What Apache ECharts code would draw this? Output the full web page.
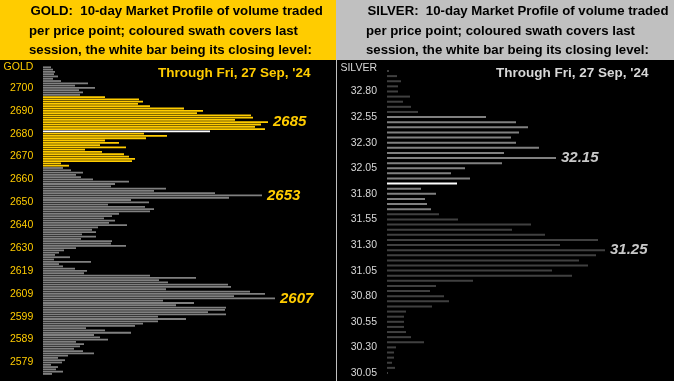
<!DOCTYPE html>
<html>
<head>
<meta charset="utf-8">
<script src="https://cdn.jsdelivr.net/npm/echarts/dist/echarts.min.js"></script>
<style>
html,body{margin:0;padding:0;background:#000;}
#c{width:674px;height:381px;}
</style>
</head>
<body>
<div id="c"></div>
<script>
// ---- GOLD: 10-day market profile, top (highest price) to bottom ----
const goldVolumes = [8,10,12,11,15,10,18,45,32,52,
  36,40,37,62,96,100,95,107,141,160,
  154,208,210,192,225,218,212,222,167,101,
  124,103,62,76,57,83,42,59,81,86,
  92,89,18,26,20,28,40,33,38,50,
  86,72,68,123,111,172,219,186,88,106,
  65,102,111,107,76,69,61,72,66,84,
  55,49,53,39,53,38,69,68,83,33,
  21,16,12,27,11,48,16,20,32,44,
  41,107,153,116,125,185,188,123,207,222,
  191,232,120,151,133,183,182,165,183,115,
  143,115,100,92,43,62,88,51,57,65,
  33,41,37,31,40,51,25,15,22,19,
  8,15,13,20,9];
const goldTickLabels = ['2700','2690','2680','2670','2660','2650','2640','2630','2619','2609','2599','2589','2579'];
const goldTickStart = 9, goldTickStep = 10;
const goldSwath = [13, 43];      // last session range (bar indices)
const goldClose = 28;            // white bar
const goldPeakIdx = [24, 56, 101];
const goldPeakLabels = ['2685', '2653', '2607'];

// ---- SILVER ----
const silverVolumes = [2,10,14,11,11,23,16,24,31,99,
  129,141,132,124,129,152,117,169,115,78,
  64,83,70,34,49,38,40,44,52,71,
  144,125,158,211,173,218,209,192,201,165,
  185,86,49,43,57,62,45,19,17,17,
  17,19,24,37,9,7,7,5,8,1];
const silverTickLabels = ['32.80','32.55','32.30','32.05','31.80','31.55','31.30','31.05','30.80','30.55','30.30','30.05'];
const silverTickStart = 4, silverTickStep = 5;
const silverSwath = [9, 27];
const silverClose = 22;
const silverPeakIdx = [17, 35];
const silverPeakLabels = ['32.15', '31.25'];

const goldCats = goldVolumes.map((_, i) => String(i));
const silverCats = silverVolumes.map((_, i) => String(i));

function buildData(vals, swath, close, peakIdx, peakLabels, cOut, cIn, peakColor) {
  return vals.map((v, i) => {
    let color = cOut;
    if (i >= swath[0] && i <= swath[1]) color = cIn;
    if (i === close) color = '#FFFFFF';
    const item = { value: v, itemStyle: { color } };
    const p = peakIdx.indexOf(i);
    if (p >= 0) {
      item.label = {
        show: true, position: 'right', distance: 5,
        formatter: peakLabels[p],
        color: peakColor, fontFamily: 'Liberation Sans, Arial, sans-serif',
        fontWeight: 'bold', fontStyle: 'italic', fontSize: 15
      };
    }
    return item;
  });
}

function tickFormatter(labels, start, step) {
  return (val, idx) => {
    const k = idx - start;
    if (k >= 0 && k % step === 0 && labels[k / step] !== undefined) return labels[k / step];
    return '';
  };
}

const FONT = 'Liberation Sans, Arial, sans-serif';
const chart = echarts.init(document.getElementById('c'));

function hdr(x, y, t) {
  return { type: 'text', x: x, y: y, style: { text: t, fill: '#000', font: 'bold 13.2px ' + FONT, textVerticalAlign: 'middle' } };
}

chart.setOption({
  backgroundColor: '#000',
  animation: false,
  graphic: [
    { type: 'rect', shape: { x: 0, y: 0, width: 336, height: 60 }, style: { fill: '#FFCC00' }, z: -10 },
    { type: 'rect', shape: { x: 336, y: 0, width: 338, height: 60 }, style: { fill: '#C0C0C0' }, z: -10 },
    { type: 'line', shape: { x1: 336.5, y1: 60, x2: 336.5, y2: 381 }, style: { stroke: '#C0C0C0', lineWidth: 1 } },
    hdr(30.5, 11.7, 'GOLD:  10-day Market Profile of volume traded'),
    hdr(29, 31, 'per price point; coloured swath covers last'),
    hdr(29, 50, 'session, the white bar being its closing level:'),
    hdr(367.5, 11.7, 'SILVER:  10-day Market Profile of volume traded'),
    hdr(366, 31, 'per price point; coloured swath covers last'),
    hdr(366, 50, 'session, the white bar being its closing level:'),
    { type: 'text', x: 158, y: 73.3, style: { text: "Through Fri, 27 Sep, '24", fill: '#FFCC00', font: 'bold 13.5px ' + FONT, textVerticalAlign: 'middle' } },
    { type: 'text', x: 496, y: 73, style: { text: "Through Fri, 27 Sep, '24", fill: '#D8D8D8', font: 'bold 13.5px ' + FONT, textVerticalAlign: 'middle' } },
    { type: 'text', x: 33.3, y: 66.7, style: { text: 'GOLD', fill: '#FFCC00', font: '10.5px ' + FONT, textAlign: 'right', textVerticalAlign: 'middle' } },
    { type: 'text', x: 377, y: 68.3, style: { text: 'SILVER', fill: '#D8D8D8', font: '10.5px ' + FONT, textAlign: 'right', textVerticalAlign: 'middle' } }
  ],
  grid: [
    { left: 43, width: 293, top: 66.16, height: 308.9 },
    { left: 387, width: 287, top: 68.44, height: 307.1 }
  ],
  xAxis: [
    { gridIndex: 0, type: 'value', min: 0, max: 293, show: false },
    { gridIndex: 1, type: 'value', min: 0, max: 287, show: false }
  ],
  yAxis: [
    { gridIndex: 0, type: 'category', inverse: true, data: goldCats,
      axisLine: { show: false }, axisTick: { show: false }, splitLine: { show: false },
      axisLabel: { interval: 0, margin: 9.7, color: '#FFCC00', fontSize: 10.5, fontFamily: FONT,
        formatter: tickFormatter(goldTickLabels, goldTickStart, goldTickStep) } },
    { gridIndex: 1, type: 'category', inverse: true, data: silverCats,
      axisLine: { show: false }, axisTick: { show: false }, splitLine: { show: false },
      axisLabel: { interval: 0, margin: 10, color: '#D8D8D8', fontSize: 10.5, fontFamily: FONT,
        formatter: tickFormatter(silverTickLabels, silverTickStart, silverTickStep) } }
  ],
  series: [
    { type: 'bar', xAxisIndex: 0, yAxisIndex: 0, barWidth: 1.8,
      data: buildData(goldVolumes, goldSwath, goldClose, goldPeakIdx, goldPeakLabels, '#808080', '#FFCC00', '#FFCC00') },
    { type: 'bar', xAxisIndex: 1, yAxisIndex: 1, barWidth: 2,
      data: buildData(silverVolumes, silverSwath, silverClose, silverPeakIdx, silverPeakLabels, '#404040', '#808080', '#C8C8C8') }
  ]
});
</script>
</body>
</html>
